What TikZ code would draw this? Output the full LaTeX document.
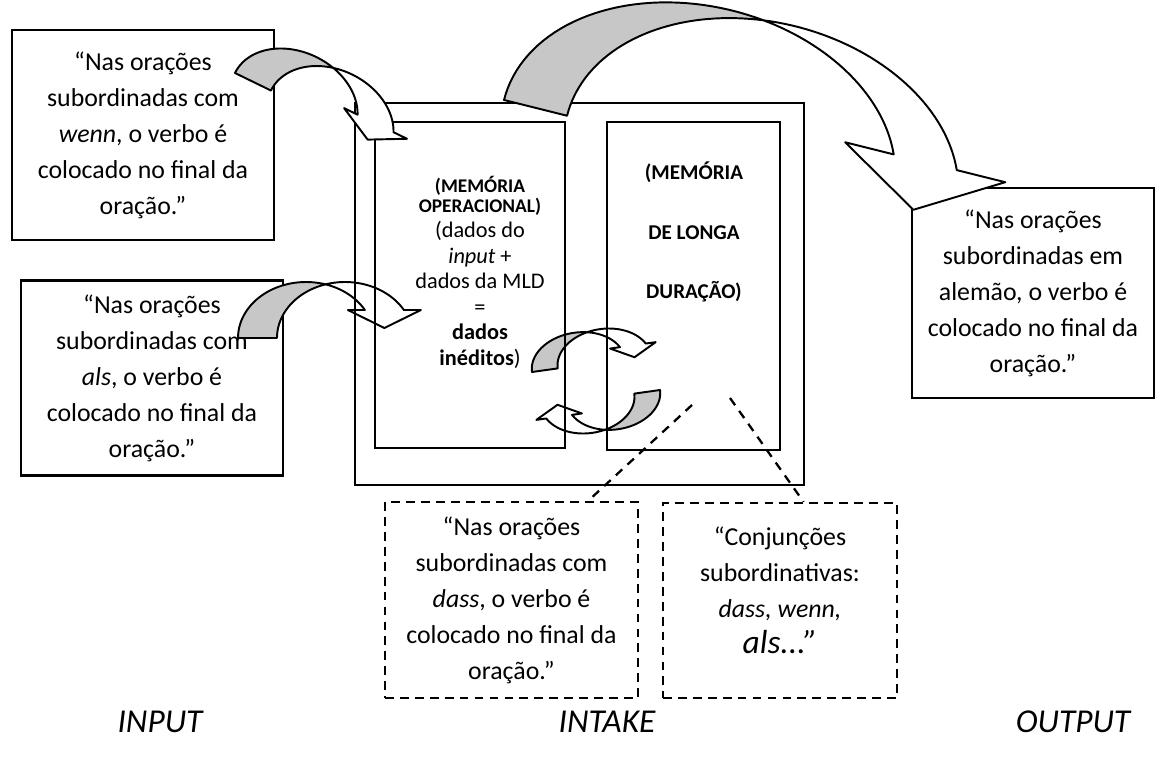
\documentclass[tikz,border=0pt]{standalone}
\usepackage{fontspec}
\setmainfont{Carlito}
\usetikzlibrary{calc}
\definecolor{shade}{gray}{0.78}
\newcommand\boxfont{\fontsize{14.7}{20.5}\selectfont}
% twisted band arrow: (tail)(rotation:rx:ry:width)(end angle:barb:tip)
\def\bentarrow(#1)(#2:#3:#4:#5)(#6:#7:#8){%
	\begin{scope}[shift={(#1)},rotate=#2,samples=40]
		\pgfmathsetmacro\ta{360-acos(#5/(2*#3))}
		\pgfmathsetmacro\tb{180+acos(#5/(2*#3))}
		\filldraw[arrowline,fill=shade] (0,0) -- plot[domain=180:\ta] ({#3+#3*cos(\x)},{#4*sin(\x)})
			-- plot[domain=\tb:180] ({#3+#5+#3*cos(\x)},{#4*sin(\x)}) -- cycle;
		\filldraw[arrowline,fill=white] plot[domain=\tb:#6] ({#3+#5+#3*cos(\x)},{#4*sin(\x)})
			-- ({#3+#5+#3*cos(#6)+#7},{#4*sin(#6)})
			-- ({#3+#5/2+#3*cos(#6)},{#4*sin(#6)+#8})
			-- ({#3+#3*cos(#6)-#7},{#4*sin(#6)})
			-- plot[domain=#6:\ta] ({#3+#3*cos(\x)},{#4*sin(\x)}) -- cycle;
	\end{scope}}
\tikzset{
	boxline/.style={line width=1.2pt},
	txtbox/.style={boxline,draw,align=center,inner sep=0pt,font=\boxfont},
	dashbox/.style={txtbox,dash pattern=on 5pt off 3.5pt},
	plainbox/.style={boxline,draw,inner sep=0pt},
	arrowline/.style={line width=1.1pt,line join=round},
	dashline/.style={line width=1.3pt,dash pattern=on 5pt off 4pt},
	stage/.style={font=\fontsize{19}{22}\selectfont\itshape}
}

\begin{document}
\begin{tikzpicture}[x=0.02cm,y=-0.02cm]
		\useasboundingbox (0,0) rectangle (1159,758);
		%%%%% INPUT %%%%%
		\node[txtbox,minimum width=5.24cm,minimum height=4.2cm] (wenn) at (143,135)
			{“Nas orações\\subordinadas com\\\textit{wenn}, o verbo é\\colocado no final da\\oração.”};
		\node[txtbox,minimum width=5.24cm,minimum height=3.9cm] (als) at (152,378)
			{“Nas orações\\subordinadas com\\\textit{als}, o verbo é\\colocado no final da\\oração.”};
		
		%%%%% INTAKE %%%%%
		\bentarrow(532,372)(8:47:33:26)(338:10:12)
		\bentarrow(660,390)(188:47:33:26)(338:10:12)
		\bentarrow(238,338)(0:68:56:39)(330:17:18)
		
		\node[plainbox,minimum width=8.98cm,minimum height=7.64cm] (intake) at (579.5,294) {};
		\node[plainbox,minimum width=3.8cm,minimum height=6.52cm] (mo) at (470,285) {};
		\node[plainbox,minimum width=3.46cm,minimum height=6.56cm] (mld) at (693.5,286) {};
		
		\node[align=center,font=\fontsize{12.7}{14.5}\selectfont] (motxt) at (480,272)
			{{\fontsize{11}{12}\selectfont\bfseries (MEMÓRIA}\\[-3pt]
			{\fontsize{11}{12}\selectfont\bfseries OPERACIONAL)}\\
			(dados do\\\textit{input} +\\dados da MLD\\=\\\textbf{dados}\\\textbf{inéditos})};
		\node[align=center,font=\fontsize{12}{34}\selectfont\bfseries] (mldtxt) at (694,232)
			{(MEMÓRIA\\DE LONGA\\DURAÇÃO)};
		
		\node[dashbox,minimum width=5.06cm,minimum height=3.92cm] (dass) at (511.5,600)
			{“Nas orações\\subordinadas com\\\textit{dass}, o verbo é\\colocado no final da\\oração.”};
		\node[dashbox,minimum width=4.68cm,minimum height=3.9cm] (conj) at (780,600.5) {};
		\node[align=center,font=\boxfont] (conjtxt) at (780,590)
			{“Conjunções\\subordinativas:\\\textit{dass, wenn,}\\{\fontsize{19}{20.5}\selectfont\textit{als...”}}};
		
		%%%%% OUTPUT %%%%%
		\node[txtbox,minimum width=4.84cm,minimum height=4.2cm] (aleman) at (1033,293)
			{“Nas orações\\subordinadas em\\alemão, o verbo é\\colocado no final da\\oração.”};
		
		\bentarrow(235,73)(-26:66:50:40)(341:15:18)
		\bentarrow(504,100)(-14:200:142:65)(343:50:49)
		
		\coordinate (mldA) at (692,405);
		\coordinate (mldB) at (730,398);
		\draw[dashline] (mldA) -- ($(dass.north west)!0.8!(dass.north east)$);
		\draw[dashline] (mldB) -- ($(conj.north west)!0.6!(conj.north east)$);
		
		\node[stage] (input) at (160,722) {INPUT};
		\node[stage] (intakelbl) at (607,722) {INTAKE};
		\node[stage] (output) at (1073,722) {OUTPUT};
		%%%%% END %%%%%
\end{tikzpicture}
\end{document}
